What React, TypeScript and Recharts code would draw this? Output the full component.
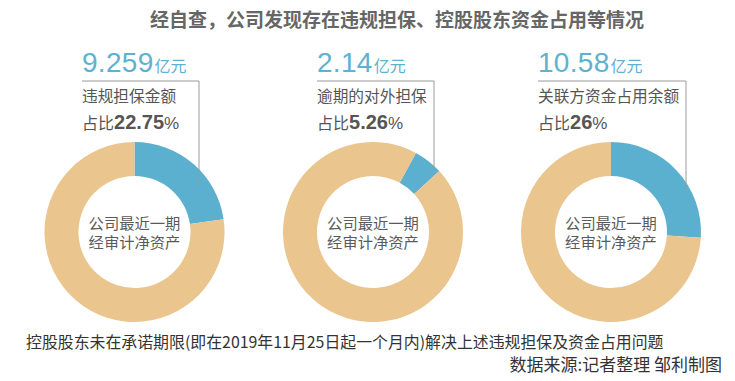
import { PieChart, Pie, Cell } from 'recharts'

// data
const amounts = ['9.259', '2.14', '10.58']
const itemNames = ['违规担保金额', '逾期的对外担保', '关联方资金占用余额']
const shares = [22.75, 5.26, 26]
const shareLabels = ['22.75', '5.26', '26']
const rotations = [0, 28.5, 0] // degrees clockwise from 12 o'clock where the blue slice starts

const TITLE = '经自查，公司发现存在违规担保、控股股东资金占用等情况'
const CENTER_LINES = ['公司最近一期', '经审计净资产']
const NOTE = '控股股东未在承诺期限(即在2019年11月25日起一个月内)解决上述违规担保及资金占用问题'
const SOURCE = '数据来源:记者整理 邹利制图'

const W = 735
const H = 381
const CENTERS_X = [134.5, 373, 611]
const CY = 232
const TEXT_X = [82, 317, 538]
const BOX_RIGHT = [199, 434, 686]
const LINE_END = [186, 171, 189]

const COLORS = {
  blue: '#5cb0cf',
  tan: '#ebc58e',
  number: '#5fb1d0',
  text: '#555555',
  line: '#9a9a9a',
}

const CJK = '"Noto Sans CJK SC", sans-serif'
const LATIN = '"Liberation Sans", Arial, sans-serif'

export default function App() {
  return (
    <div style={{ position: 'absolute', left: 0, top: 0, width: W, height: H, background: '#fff' }}>
      <PieChart width={W} height={H} margin={{ top: 0, right: 0, bottom: 0, left: 0 }}>
        {shares.map((s, i) => {
          const start = 90 - rotations[i]
          return (
            <Pie
              key={`pie-${i}`}
              data={[
                { name: itemNames[i], value: s },
                { name: 'rest', value: 100 - s },
              ]}
              dataKey="value"
              cx={CENTERS_X[i]}
              cy={CY}
              innerRadius={56}
              outerRadius={90}
              startAngle={start}
              endAngle={start - 360}
              stroke="none"
              isAnimationActive={false}
            >
              <Cell fill={COLORS.blue} />
              <Cell fill={COLORS.tan} />
            </Pie>
          )
        })}
      </PieChart>

      <svg width={W} height={H} style={{ position: 'absolute', left: 0, top: 0, pointerEvents: 'none' }}>
        <text x={150} y={27} fontFamily={CJK} fontSize={19} fontWeight={700} fill="#666">
          {TITLE}
        </text>

        {amounts.map((a, i) => (
          <g key={`ann-${i}`}>
            <text x={TEXT_X[i]} y={72} fill={COLORS.number}>
              <tspan fontFamily={LATIN} fontSize={28} letterSpacing={0.3}>{a}</tspan>
              <tspan fontFamily={CJK} fontSize={16} dx={1}>亿元</tspan>
            </text>
            <polyline
              points={`${TEXT_X[i]},81 ${BOX_RIGHT[i]},81 ${BOX_RIGHT[i]},${LINE_END[i]}`}
              fill="none"
              stroke={COLORS.line}
              strokeWidth={1}
            />
            <text x={TEXT_X[i]} y={102} fontFamily={CJK} fontSize={15.7} fill={COLORS.text}>
              {itemNames[i]}
            </text>
            <text x={TEXT_X[i]} y={129} fill={COLORS.text}>
              <tspan fontFamily={CJK} fontSize={16}>占比</tspan>
              <tspan fontFamily={LATIN} fontSize={20} fontWeight={700}>{shareLabels[i]}</tspan>
              <tspan fontFamily={LATIN} fontSize={17}>%</tspan>
            </text>
            {/* centre label, two lines in one text element */}
            <text
              x={CENTERS_X[i]}
              y={CY - 3}
              textAnchor="middle"
              fontFamily={CJK}
              fontSize={15.3}
              fill="#5a5a5a"
            >
              {CENTER_LINES.map((t, j) => (
                <tspan key={`c-${j}`} x={CENTERS_X[i]} dy={j === 0 ? 0 : 19}>
                  {t}
                </tspan>
              ))}
            </text>
          </g>
        ))}

        <text x={26} y={348} fontFamily={CJK} fontSize={15.9} fill="#333">
          {NOTE}
        </text>
        <text x={722} y={371} textAnchor="end" fontFamily={CJK} fontSize={17} fill="#333">
          {SOURCE}
        </text>
      </svg>
    </div>
  )
}
